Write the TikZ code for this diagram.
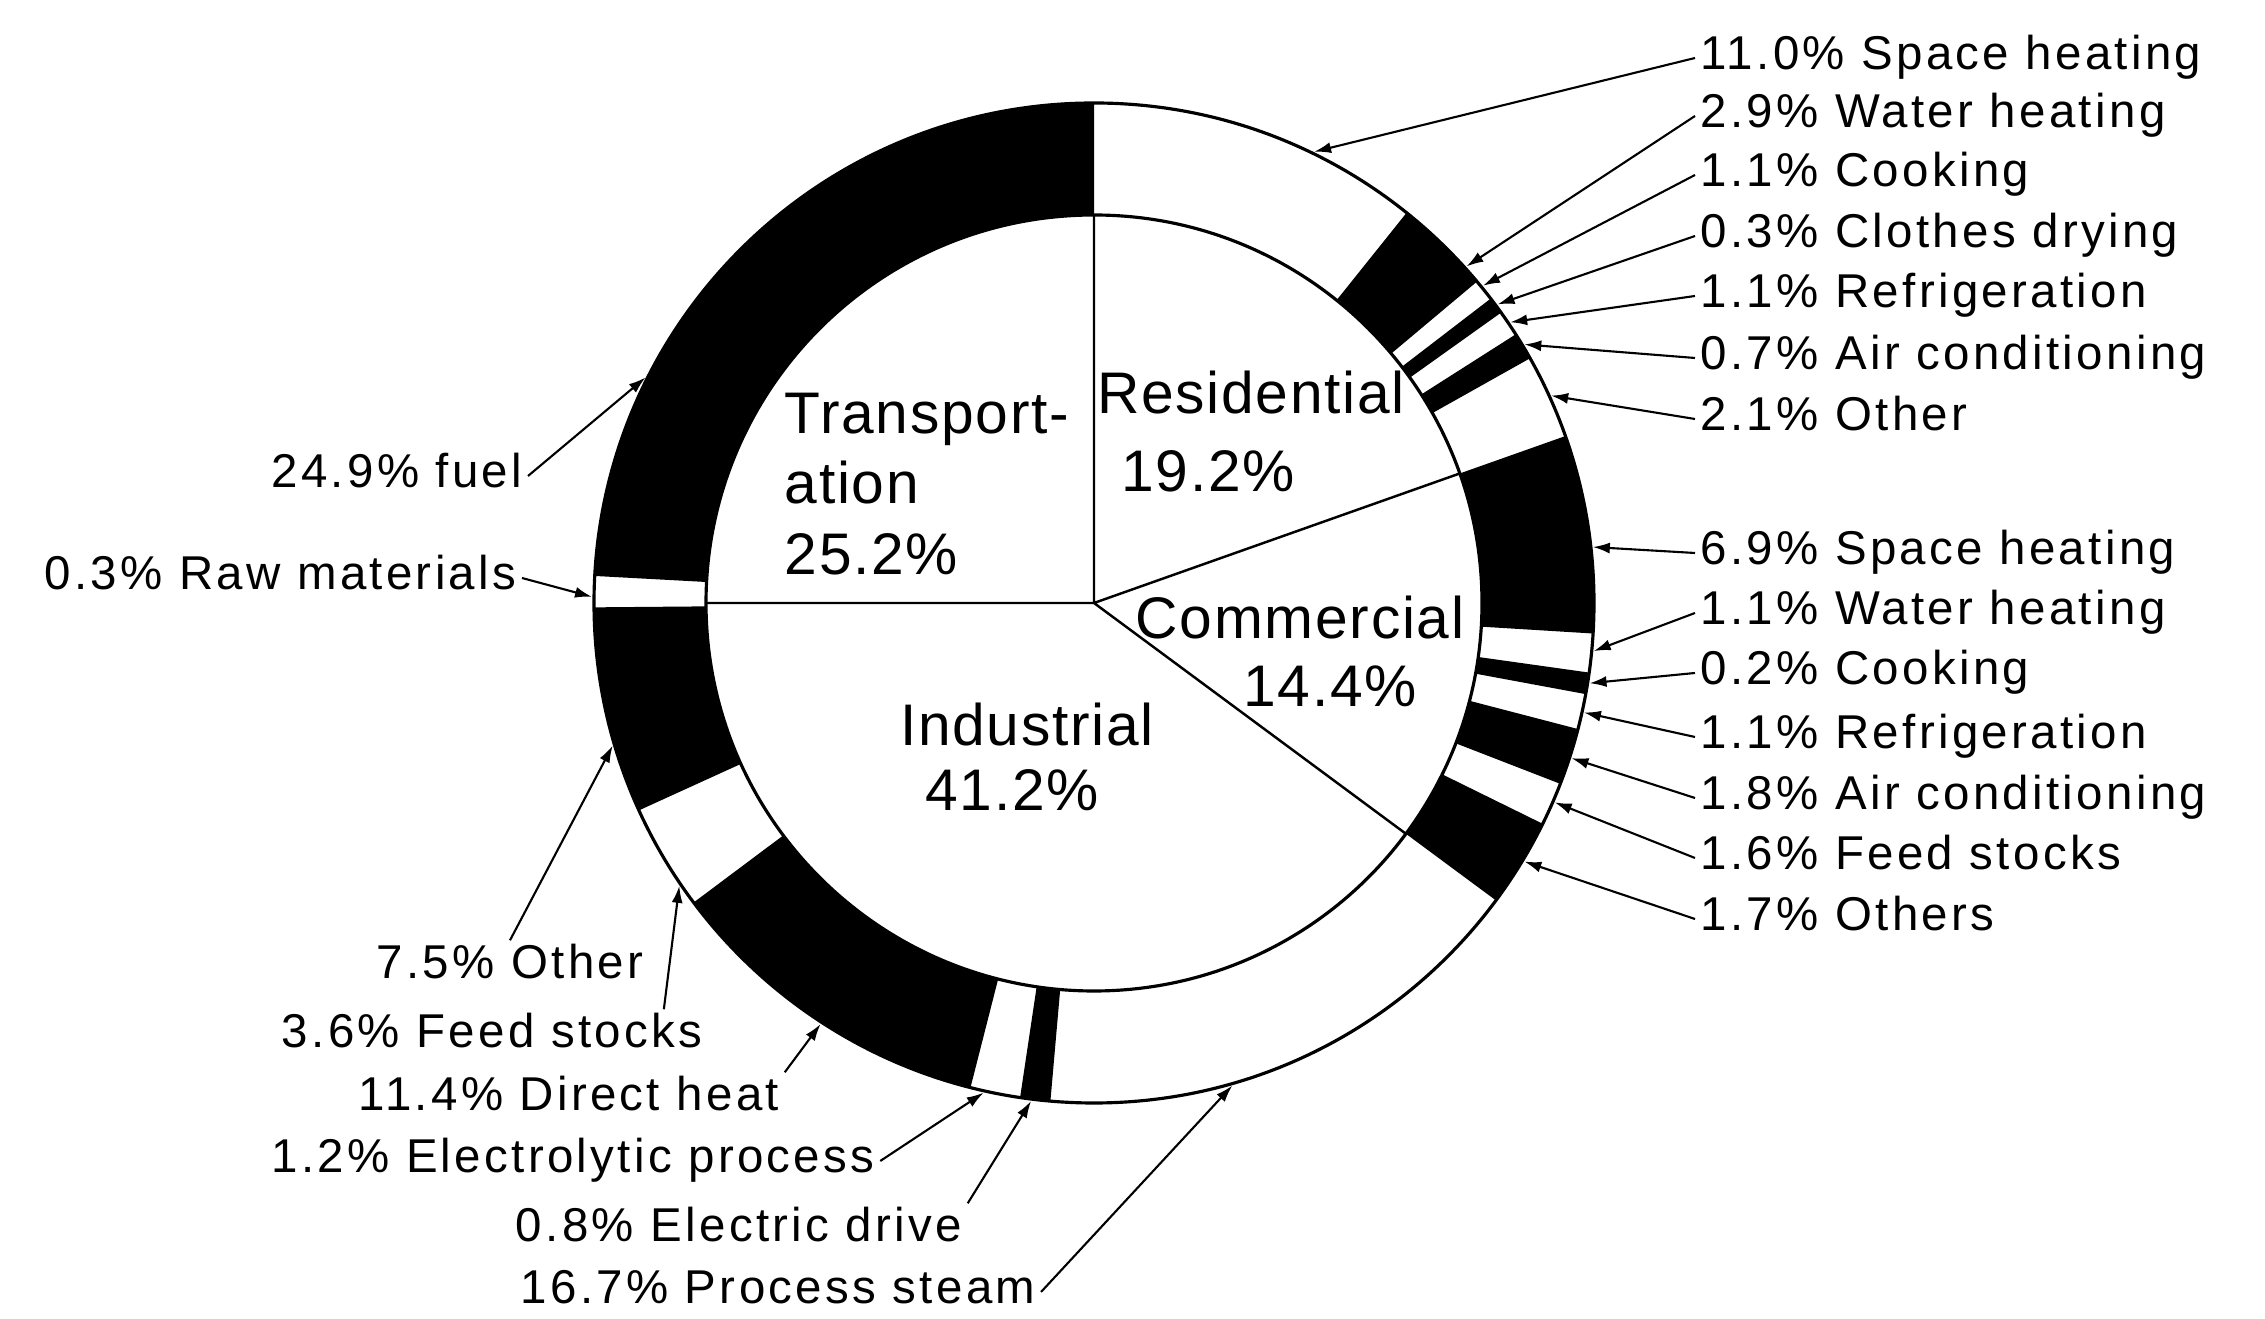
\documentclass[tikz,border=0pt]{standalone}
\usepackage{fontspec}
\setmainfont[LetterSpace=7]{Liberation Sans}
\newfontfamily\bigfont[LetterSpace=3]{Liberation Sans}
\usetikzlibrary{arrows.meta}

% black piece of the ring between two angles
\newcommand{\blackseg}[2]{\fill (#1:3.88) arc[start angle=#1, end angle=#2, radius=3.88] -- (#2:5) arc[start angle=#2, end angle=#1, radius=5] -- cycle;}

\begin{document}
\begin{tikzpicture}[>={Latex[length=1.7mm,width=1.1mm]},
    lbl/.style={font=\fontsize{13.5}{16}\selectfont, inner sep=0.5mm, text height=0.33cm, text depth=0.09cm},
    big/.style={font=\bigfont\fontsize{16.7}{20}\selectfont, inner sep=0pt},
    lead/.style={->, line width=0.6pt}]
    \path[fill=white] (0,0) rectangle (22.65,13.19);

    \begin{scope}[shift={(10.94,7.16)}]
        \foreach \a/\b in {90/176.9, 180.5/204.5, 216.8/255.7, 261.5/265, -36.5/-26.2, -21.2/-14.6,
                           -10.5/-8, -3.5/19.5, 29.3/32.5, 35.5/37.5, 40/51.3}
            \blackseg{\a}{\b}
        \coordinate (c) at (0,0);
        \draw[line width=0.9pt] (c) circle (5) (c) circle (3.88);
        \draw[line width=0.7pt] (c) -- (90:3.88) (c) -- (19.5:3.88) (c) -- (-36.5:3.88) (c) -- (180:3.88);

        % arrow ends on the ring
        \coordinate (rsh) at (64:5.02);
        \coordinate (rwh) at (42.1:5.02);
        \coordinate (rck) at (39.2:5.02);
        \coordinate (rcd) at (36.5:5.02);
        \coordinate (rrf) at (34:5.02);
        \coordinate (rac) at (31:5.02);
        \coordinate (rot) at (24.4:5.02);
        \coordinate (csh) at (6.4:5.02);
        \coordinate (cwh) at (-5.5:5.02);
        \coordinate (cck) at (-9.2:5.02);
        \coordinate (crf) at (-12.6:5.02);
        \coordinate (cac) at (-18:5.02);
        \coordinate (cfs) at (-23.4:5.02);
        \coordinate (cot) at (-31:5.02);
        \coordinate (tfu) at (153.3:5.02);
        \coordinate (trm) at (179.3:5.02);
        \coordinate (iot) at (196.5:5.02);
        \coordinate (ifs) at (214.3:5.02);
        \coordinate (idh) at (237:5.02);
        \coordinate (iel) at (257.3:5.02);
        \coordinate (idr) at (262.8:5.02);
        \coordinate (ips) at (286:5.02);
    \end{scope}

    \node[big, anchor=west, align=left] (tra) at (7.84,8.35) {Transport-\\ation\\25.2\%};
    \node[big] (res) at (12.51,9.26) {Residential};
    \node[big] (resp) at (12.08,8.48) {19.2\%};
    \node[big] (com) at (13.00,7.01) {Commercial};
    \node[big] (comp) at (13.30,6.33) {14.4\%};
    \node[big] (ind) at (10.27,5.94) {Industrial};
    \node[big] (indp) at (10.12,5.29) {41.2\%};

    \node[lbl, anchor=west] (rshl) at (16.95,12.61) {11.0\% Space heating};
    \node[lbl, anchor=west] (rwhl) at (16.95,12.03) {2.9\% Water heating};
    \node[lbl, anchor=west] (rckl) at (16.95,11.44) {1.1\% Cooking};
    \node[lbl, anchor=west] (rcdl) at (16.95,10.83) {0.3\% Clothes drying};
    \node[lbl, anchor=west] (rrfl) at (16.95,10.23) {1.1\% Refrigeration};
    \node[lbl, anchor=west] (racl) at (16.95,9.61) {0.7\% Air conditioning};
    \node[lbl, anchor=west] (rotl) at (16.95,9.00) {2.1\% Other};

    \node[lbl, anchor=west] (cshl) at (16.95,7.66) {6.9\% Space heating};
    \node[lbl, anchor=west] (cwhl) at (16.95,7.06) {1.1\% Water heating};
    \node[lbl, anchor=west] (cckl) at (16.95,6.46) {0.2\% Cooking};
    \node[lbl, anchor=west] (crfl) at (16.95,5.82) {1.1\% Refrigeration};
    \node[lbl, anchor=west] (cacl) at (16.95,5.21) {1.8\% Air conditioning};
    \node[lbl, anchor=west] (cfsl) at (16.95,4.61) {1.6\% Feed stocks};
    \node[lbl, anchor=west] (cotl) at (16.95,4.00) {1.7\% Others};

    \node[lbl, anchor=east] (tful) at (5.28,8.43) {24.9\% fuel};
    \node[lbl, anchor=east] (trml) at (5.22,7.41) {0.3\% Raw materials};
    \node[lbl] (iotl) at (5.10,3.52) {7.5\% Other};
    \node[lbl] (ifsl) at (4.92,2.83) {3.6\% Feed stocks};
    \node[lbl] (idhl) at (5.69,2.20) {11.4\% Direct heat};
    \node[lbl] (iell) at (5.73,1.58) {1.2\% Electrolytic process};
    \node[lbl] (idrl) at (7.39,0.89) {0.8\% Electric drive};
    \node[lbl] (ipsl) at (7.78,0.27) {16.7\% Process steam};

    \path[lead] (rshl.west) edge (rsh)
                (rwhl.west) edge (rwh)
                (rckl.west) edge (rck)
                (rcdl.west) edge (rcd)
                (rrfl.west) edge (rrf)
                (racl.west) edge (rac)
                (rotl.west) edge (rot);
    \path[lead] (cshl.west) edge (csh)
                (cwhl.west) edge (cwh)
                (cckl.west) edge (cck)
                (crfl.west) edge (crf)
                (cacl.west) edge (cac)
                (cfsl.west) edge (cfs)
                (cotl.west) edge (cot);
    \path[lead] (tful.east) edge (tfu)
                (trml.east) edge (trm)
                (iotl.north) edge (iot)
                ([xshift=-4.4mm]ifsl.north east) edge (ifs)
                (idhl.north east) edge (idh)
                (iell.east) edge (iel)
                (idrl.north east) edge (idr)
                (ipsl.east) edge (ips);
\end{tikzpicture}
\end{document}
